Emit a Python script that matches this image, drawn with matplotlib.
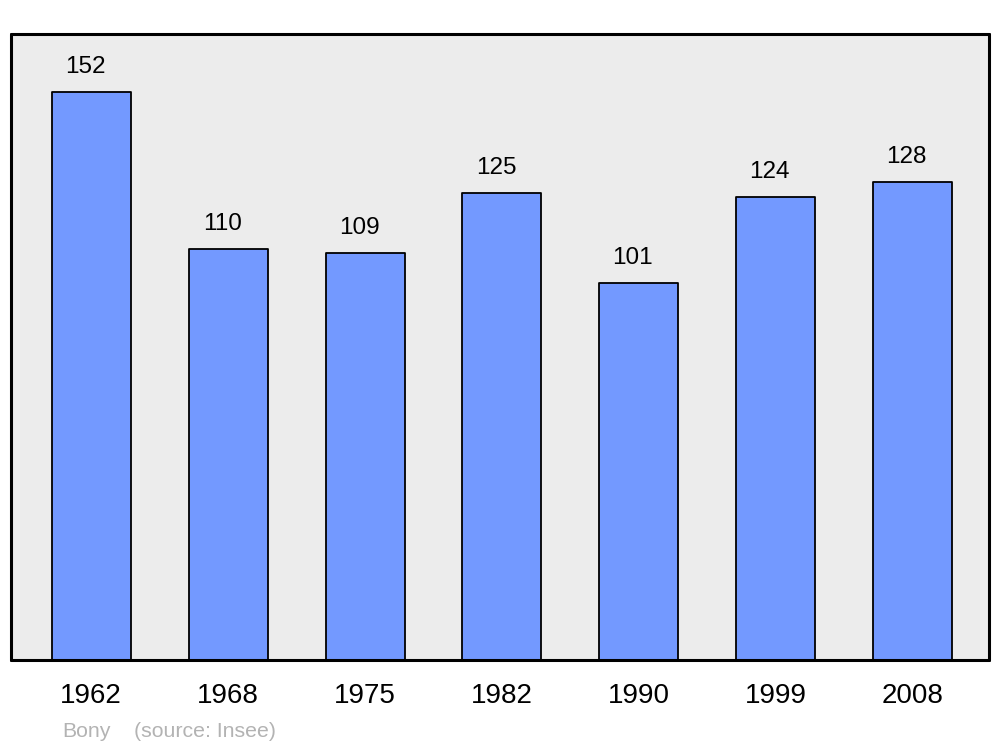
import matplotlib
matplotlib.use("Agg")
import matplotlib.pyplot as plt
from matplotlib.transforms import offset_copy

years = ["1962", "1968", "1975", "1982", "1990", "1999", "2008"]
population = [152, 110, 109, 125, 101, 124, 128]
commune = "Bony"
source = "(source: Insee)"

plt.rcParams['font.family'] = ['Liberation Sans', 'DejaVu Sans']

fig = plt.figure(figsize=(10, 7.47), dpi=100)
ax = fig.add_axes([11/1000, (747-660)/747, 978/1000, 626/747])
ax.set_facecolor('#ececec')

x = list(range(len(years)))
bars = ax.bar(x, population, width=0.577, color='#7399ff', edgecolor='black',
              linewidth=1.3, zorder=2)
for b in bars:
    b.set_joinstyle('round')

ax.set_xlim(-0.586, 6.558)
ax.set_ylim(0, 167.5)
ax.set_yticks([])
ax.set_xticks(x)
ax.set_xticklabels(years, fontsize=20)
ax.tick_params(axis='x', length=0, pad=16.5)

for s in ax.spines.values():
    s.set_linewidth(2.2)
    s.set_capstyle('round')
    s.set_joinstyle('round')

for xi, v in zip(x, population):
    tr = offset_copy(ax.transData, fig=fig, x=-6, y=19, units='dots')
    ax.text(xi, v, str(v), transform=tr, ha='center', va='baseline', fontsize=17.5)

fig.text(62/1000, 1-737/747, commune, fontsize=15.3, color='#b3b3b3', ha='left', va='baseline')
fig.text(134/1000, 1-737/747, source, fontsize=15.3, color='#b3b3b3', ha='left', va='baseline')

fig.savefig('out.png', dpi=100)
